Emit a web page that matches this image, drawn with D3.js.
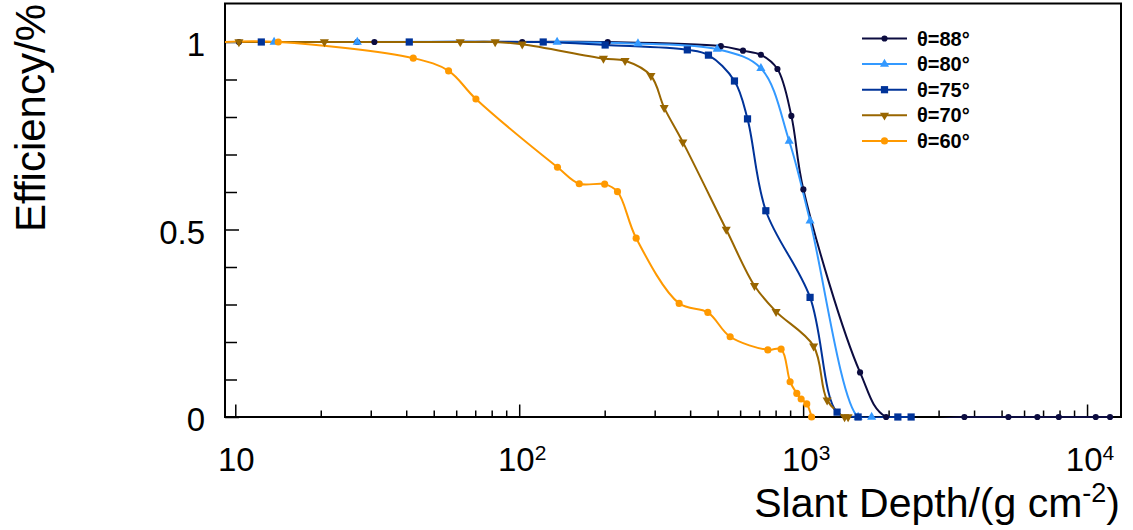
<!DOCTYPE html>
<html>
<head>
<meta charset="utf-8">
<script src="https://cdn.jsdelivr.net/npm/d3@7"></script>
<style>
  body { margin: 0; background: #fff; }
  svg { display: block; font-family: "Liberation Sans", Arial, Helvetica, sans-serif; }
</style>
</head>
<body>
<div id="chart"></div>
<script>
// Values: slant depth (g cm^-2) and detection efficiency per zenith angle
var seriesNames = ["θ=88°", "θ=80°", "θ=75°", "θ=70°", "θ=60°"];

var depth88 = [10.3, 26.9, 30.9, 102.5, 205, 513, 614, 710, 812, 909, 1002, 1587, 1960, 3698, 5284, 6683, 7951, 10730, 12050],
    eff88   = [1, 1, 1, 1, 1, 0.989, 0.977, 0.966, 0.928, 0.803, 0.607, 0.119, 0, 0, 0, 0, 0, 0, 0];

var depth80 = [9.0, 13.7, 26.9, 136, 262, 498, 710, 893, 1058, 1562, 1743],
    eff80   = [1, 1, 1, 1, 0.996, 0.981, 0.93, 0.736, 0.523, 0, 0];

var depth75 = [12.35, 41, 121.5, 200.8, 391, 464, 573, 637, 739, 1058, 1317, 1562, 2156, 2401],
    eff75   = [1, 1, 1, 0.992, 0.979, 0.965, 0.896, 0.795, 0.55, 0.319, 0.013, 0, 0, 0];

var depth70 = [10.3, 20.6, 62, 82.3, 102.5, 198, 236, 291, 324, 377, 536, 674, 803, 1089, 1215, 1400, 1440],
    eff70   = [1, 1, 1, 1, 0.994, 0.956, 0.95, 0.91, 0.825, 0.733, 0.5, 0.35, 0.281, 0.189, 0.045, 0, 0];

var depth60 = [9.0, 14.17, 42.35, 56.4, 70.4, 136.4, 162.7, 200, 221.9, 258.2, 365.9, 461.7, 553.4, 751, 836.6, 899.8, 950, 984, 1030, 1071],
    eff60   = [1, 1, 0.957, 0.923, 0.848, 0.666, 0.622, 0.621, 0.601, 0.477, 0.303, 0.279, 0.214, 0.179, 0.181, 0.094, 0.063, 0.048, 0.035, 0];

// tick labels
var yTickValues = [0, 0.5, 1],
    yTickLabels = ["0", "0.5", "1"];
var xTickValues = [10, 100, 1000, 10000],
    xTickBase   = ["10", "10", "10", "10"],
    xTickExp    = ["", "2", "3", "4"];

var xTitle = "Slant Depth/(g cm", xTitleExp = "-2", yTitle = "Efficiency/%";

var depths = [depth88, depth80, depth75, depth70, depth60],
    effs   = [eff88, eff80, eff75, eff70, eff60];

// styling per series (ROOT-ish colours and marker styles)
var colors  = ["#0c0c40", "#3399ff", "#003399", "#996600", "#ff9900"],
    symbols = [d3.symbolCircle, d3.symbolTriangle, d3.symbolSquare, d3.symbolTriangle, d3.symbolCircle],
    symSize = [30, 36, 52, 36, 40],
    symRot  = [0, 0, 0, 180, 0];

var width = 1133, height = 530,
    frame = {left: 225, right: 1121, top: 3.5, bottom: 417};

var xScale = d3.scaleLog()
      .domain([9.2, 13170])
      .range([frame.left, frame.right]),
    yScale = d3.scaleLinear()
      .domain([0, 1.1])
      .range([frame.bottom, 4.5]);

var svg = d3.select("#chart").append("svg")
    .attr("width", width)
    .attr("height", height);

// minor tick positions: 2..9 within each decade
var xMinor = [];
[1, 10, 100, 1000, 10000].forEach(function(dec) {
  for (var k = 2; k <= 9; k++) {
    var v = k * dec;
    if (v > xScale.domain()[0] && v < xScale.domain()[1]) xMinor.push(v);
  }
});
var yMinor = d3.range(1, 11).map(function(i) { return i / 10; })
    .filter(function(v) { return yTickValues.indexOf(v) < 0; });

// x axis ticks (pointing up into the frame)
svg.append("g")
    .attr("transform", "translate(0," + frame.bottom + ")")
    .call(d3.axisBottom(xScale).tickValues(xMinor).tickSize(-6.5).tickFormat(""))
    .call(function(g) { g.select(".domain").remove(); });
svg.append("g")
    .attr("transform", "translate(0," + frame.bottom + ")")
    .call(d3.axisBottom(xScale).tickValues(xTickValues).tickSize(-12.5).tickFormat(""))
    .call(function(g) { g.select(".domain").remove(); });

// y axis ticks
svg.append("g")
    .attr("transform", "translate(" + frame.left + ",0)")
    .call(d3.axisLeft(yScale).tickValues(yMinor).tickSize(-12).tickFormat(""))
    .call(function(g) { g.select(".domain").remove(); });
var yAxisG = svg.append("g")
    .attr("transform", "translate(" + frame.left + ",0)")
    .call(d3.axisLeft(yScale)
      .tickValues(yTickValues)
      .tickSize(-14)
      .tickPadding(20)
      .tickFormat(function(d, i) { return yTickLabels[i]; }))
    .call(function(g) { g.select(".domain").remove(); });
yAxisG.attr("font-size", 33).attr("font-family", null);
yAxisG.selectAll("text").attr("fill", "#000").attr("dy", "0.41em");

svg.selectAll(".tick line").attr("stroke", "#000").attr("stroke-width", 1.5);

// x tick labels with superscript exponents
var xLab = svg.append("g")
    .attr("font-size", 33)
    .attr("text-anchor", "middle")
  .selectAll("text")
    .data(xTickValues)
  .enter().append("text")
    .attr("x", function(d, i) { return xScale(d) + (xTickExp[i] ? 3 : 1); })
    .attr("y", 471);
xLab.append("tspan").text(function(d, i) { return xTickBase[i]; });
xLab.append("tspan")
    .attr("font-size", 21)
    .attr("dy", -11)
    .text(function(d, i) { return xTickExp[i]; });

// frame
svg.append("rect")
    .attr("x", frame.left)
    .attr("y", frame.top)
    .attr("width", frame.right - frame.left)
    .attr("height", frame.bottom - frame.top)
    .attr("fill", "none")
    .attr("stroke", "#000")
    .attr("stroke-width", 2);

// clip lines to the frame
svg.append("clipPath").attr("id", "plotclip")
  .append("rect")
    .attr("x", frame.left)
    .attr("y", frame.top)
    .attr("width", frame.right - frame.left)
    .attr("height", frame.bottom - frame.top + 1);

var line = d3.line()
    .x(function(d) { return xScale(d[0]); })
    .y(function(d) { return yScale(d[1]); })
    .curve(d3.curveCatmullRom.alpha(0.5));

var series = depths.map(function(ds, i) {
  return ds.map(function(v, j) { return [v, effs[i][j]]; });
});

var lineG = svg.append("g").attr("clip-path", "url(#plotclip)");
var dom = xScale.domain();

series.forEach(function(pts, i) {
  lineG.append("path")
      .datum(pts)
      .attr("fill", "none")
      .attr("stroke", colors[i])
      .attr("stroke-width", 2)
      .attr("d", line);
});

series.forEach(function(pts, i) {
  svg.append("g").selectAll("path")
      .data(pts.filter(function(d) { return d[0] >= dom[0] && d[0] <= dom[1]; }))
    .enter().append("path")
      .attr("d", d3.symbol().type(symbols[i]).size(symSize[i]))
      .attr("fill", colors[i])
      .attr("transform", function(d) {
        return "translate(" + xScale(d[0]) + "," + yScale(d[1]) + ") rotate(" + symRot[i] + ")";
      });
});

// legend
var legend = svg.append("g").attr("class", "legend");
seriesNames.forEach(function(name, i) {
  var ly = 38.5 + i * 25.6;
  legend.append("line")
      .attr("x1", 862).attr("x2", 907)
      .attr("y1", ly).attr("y2", ly)
      .attr("stroke", colors[i])
      .attr("stroke-width", 2);
  legend.append("path")
      .attr("d", d3.symbol().type(symbols[i]).size(symSize[i]))
      .attr("fill", colors[i])
      .attr("transform", "translate(884.5," + ly + ") rotate(" + symRot[i] + ")");
  legend.append("text")
      .attr("x", 917)
      .attr("y", ly + 7)
      .attr("font-size", 20)
      .attr("font-weight", "bold")
      .text(name);
});

// axis titles
var xt = svg.append("text")
    .attr("x", 1120)
    .attr("y", 517)
    .attr("text-anchor", "end")
    .attr("font-size", 41);
xt.append("tspan").text(xTitle);
xt.append("tspan").attr("font-size", 27).attr("dy", -15).text(xTitleExp);
xt.append("tspan").attr("dy", 15).text(")");

svg.append("text")
    .attr("transform", "translate(45,4) rotate(-90)")
    .attr("text-anchor", "end")
    .attr("font-size", 42)
    .text(yTitle);
</script>
</body>
</html>
